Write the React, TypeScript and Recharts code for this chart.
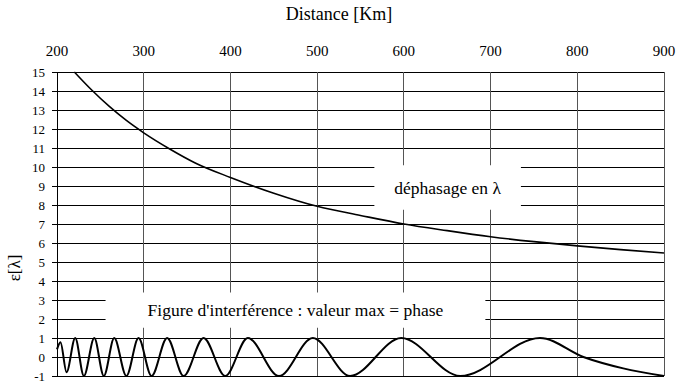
import React from 'react';
import { LineChart, Line, XAxis, YAxis, CartesianGrid, ReferenceArea, Label } from 'recharts';

// distance axis (km) and phase axis (wavelengths)
const distanceTicks = [200, 300, 400, 500, 600, 700, 800, 900];
const phaseTicks = [-1, 0, 1, 2, 3, 4, 5, 6, 7, 8, 9, 10, 11, 12, 13, 14, 15];

// déphasage en λ
const phaseKm = [220, 240, 260, 280, 300, 330, 360, 400, 450, 500, 550, 600, 650, 700, 750, 800, 850, 900];
const phaseVal = [15.0, 14.05, 13.2, 12.45, 11.8, 10.95, 10.2, 9.45, 8.62, 7.93, 7.45, 7.0, 6.65, 6.33, 6.07, 5.85, 5.65, 5.47];

// interference figure: start point, peaks and troughs, plus the slow tail after 757 km
const fringeKm = [200, 204, 211, 221, 231, 243, 254, 266, 280, 294, 309, 327, 346, 369, 394, 420, 456, 495, 538, 597, 665, 757, 807, 853, 900];
const fringeVal = [0.4, 0.78, -0.8, 1, -1, 1, -1, 1, -1, 1, -1, 1, -1, 1, -1, 1, -1, 1, -1, 1, -1, 1, 0, -0.6, -1];

const phaseData = phaseKm.map((km, i) => ({ km, v: phaseVal[i] }));
const fringeData = fringeKm.map((km, i) => ({ km, v: fringeVal[i] }));

const FONT = 'Liberation Serif';

export default function App() {
  return (
    <div style={{ position: 'absolute', left: 0, top: 0, width: 682, height: 383, background: '#fff', fontFamily: FONT }}>
      <LineChart width={682} height={383} margin={{ top: 0, right: 18, bottom: 7, left: 0 }} style={{ fontFamily: FONT }}>
        <CartesianGrid horizontal={true} vertical={false} stroke="#000" strokeOpacity={1} shapeRendering="crispEdges" />
        <CartesianGrid horizontal={false} vertical={true} stroke="#555" strokeOpacity={1} shapeRendering="crispEdges" />
        <XAxis
          type="number"
          dataKey="km"
          orientation="top"
          domain={[200, 900]}
          ticks={distanceTicks}
          height={72}
          axisLine={false}
          tickLine={false}
          tickSize={0}
          tickMargin={16}
          tick={{ fontSize: 15, fill: '#000', style: { fontFamily: FONT } }}
        >
          <Label
            content={({ viewBox }: any) => (
              <text x={viewBox.x + 282} y={viewBox.y + 20} textAnchor="middle" fontSize={18} style={{ fontFamily: FONT }} fill="#000">
                Distance [Km]
              </text>
            )}
          />
        </XAxis>
        <YAxis
          type="number"
          domain={[-1, 15]}
          ticks={phaseTicks}
          width={57}
          interval={0}
          axisLine={{ stroke: '#000', shapeRendering: 'crispEdges' }}
          tickLine={{ stroke: '#000', shapeRendering: 'crispEdges' }}
          tickSize={5}
          tickMargin={7}
          tick={{ fontSize: 13, fill: '#000', style: { fontFamily: FONT } }}
        >
          <Label
            content={({ viewBox }: any) => (
              <text
                x={viewBox.x + 20}
                y={viewBox.y + 196}
                textAnchor="middle"
                fontSize={17}
                style={{ fontFamily: FONT }}
                fill="#000"
                transform={`rotate(-90 ${viewBox.x + 20} ${viewBox.y + 196})`}
              >
                ε[λ]
              </text>
            )}
          />
        </YAxis>
        <ReferenceArea
          x1={566}
          x2={735}
          y1={7.75}
          y2={10.09}
          fill="#fff"
          fillOpacity={1}
          stroke="none"
          label={{ value: 'déphasage en λ', position: 'center', fontSize: 17.5, fill: '#000', style: { fontFamily: FONT } }}
        />
        <ReferenceArea
          x1={256}
          x2={694}
          y1={1.54}
          y2={3.4}
          fill="#fff"
          fillOpacity={1}
          stroke="none"
          label={{ value: "Figure d'interférence : valeur max = phase", position: 'center', fontSize: 17.5, fill: '#000', style: { fontFamily: FONT } }}
        />
        <Line
          data={phaseData}
          dataKey="v"
          type="monotone"
          stroke="#000"
          strokeWidth={1.6}
          dot={false}
          activeDot={false}
          isAnimationActive={false}
        />
        <Line
          data={fringeData}
          dataKey="v"
          type="monotone"
          stroke="#000"
          strokeWidth={2}
          dot={false}
          activeDot={false}
          isAnimationActive={false}
        />
      </LineChart>
    </div>
  );
}
